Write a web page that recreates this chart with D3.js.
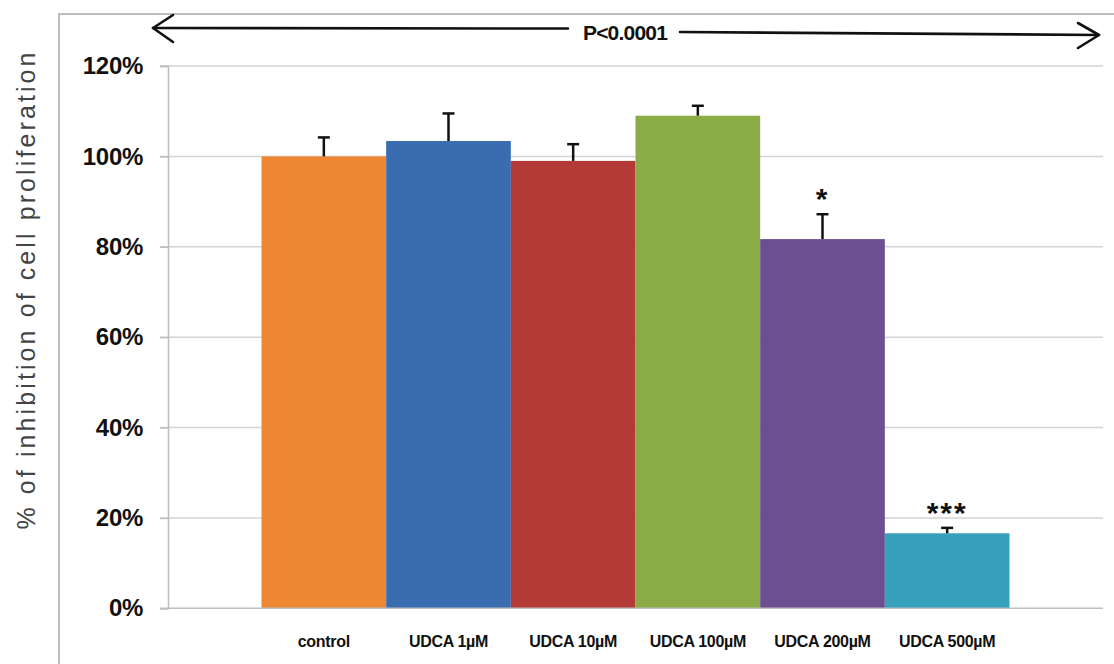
<!DOCTYPE html>
<html>
<head>
<meta charset="utf-8">
<script src="https://cdn.jsdelivr.net/npm/d3@7/dist/d3.min.js"></script>
<style>
  html, body { margin: 0; padding: 0; background: #fff; }
  svg { display: block; }
</style>
</head>
<body>
<svg id="chart" width="1114" height="664"></svg>
<script>
// Treatment groups and measured proliferation (% of control)
const categories = ["control", "UDCA 1µM", "UDCA 10µM", "UDCA 100µM", "UDCA 200µM", "UDCA 500µM"];
const values     = [100, 103.4, 99.0, 109.0, 81.7, 16.6];
const errors     = [4.2, 6.1, 3.7, 2.2, 5.5, 1.2];
const stars      = ["", "", "", "", "*", "***"];
const colors     = ["#ee8733", "#3a6daf", "#b33a37", "#8bab46", "#6c4f91", "#37a0bd"];
const yTicks     = [0, 20, 40, 60, 80, 100, 120];
const yTitle     = "% of inhibition of cell proliferation";
const pLabel     = "P<0.0001";

const svg = d3.select("#chart");

// Outer frame (top and left border)
svg.append("path")
  .attr("d", "M59,664 L59,14 L1114,14")
  .attr("fill", "none")
  .attr("stroke", "#bdbdbd")
  .attr("stroke-width", 2);

const plot = { left: 168, right: 1103, top: 66, bottom: 608.3 };

const y = d3.scaleLinear().domain([0, 120]).range([plot.bottom, plot.top]);

// One category holding six series; gap between clusters = 150% of a bar
const x0 = d3.scaleBand().domain(["all"]).range([plot.left, plot.right])
  .paddingInner(0).paddingOuter(0.125);
const x1 = d3.scaleBand().domain(categories).range([0, x0.bandwidth()]).padding(0);
const bx = d => x0("all") + x1(d);

// Gridlines
svg.append("g")
  .selectAll("line")
  .data(yTicks.filter(t => t > 0))
  .join("line")
  .attr("x1", plot.left - 8).attr("x2", plot.right)
  .attr("y1", d => y(d)).attr("y2", d => y(d))
  .attr("stroke", "#d3d3d3").attr("stroke-width", 1.5);

// Y axis
const yAxis = d3.axisLeft(y).tickValues(yTicks).tickSize(8).tickPadding(17)
  .tickFormat(d => d + "%");
const gy = svg.append("g").attr("transform", `translate(${plot.left},0)`).call(yAxis);
gy.select(".domain").attr("stroke", "#bdbdbd").attr("stroke-width", 1.5);
gy.selectAll(".tick line").attr("stroke", "#bdbdbd").attr("stroke-width", 1.5);
gy.selectAll(".tick text")
  .attr("fill", "#111")
  .style("font-family", "'Liberation Sans', Arial, sans-serif")
  .style("font-weight", "bold")
  .style("font-size", "24px")
  .style("letter-spacing", "-0.3px");

// Bars
svg.append("g")
  .selectAll("rect")
  .data(categories)
  .join("rect")
  .attr("x", d => bx(d))
  .attr("width", x1.bandwidth())
  .attr("y", (d, i) => y(values[i]))
  .attr("height", (d, i) => y(0) - y(values[i]))
  .attr("fill", (d, i) => colors[i]);

// X baseline
svg.append("line")
  .attr("x1", plot.left - 8).attr("x2", plot.right)
  .attr("y1", y(0)).attr("y2", y(0))
  .attr("stroke", "#bdbdbd").attr("stroke-width", 1.5);

// Upper error bars
const eb = svg.append("g").attr("stroke", "#111").attr("stroke-width", 2.5);
categories.forEach((c, i) => {
  const cx = bx(c) + x1.bandwidth() / 2;
  eb.append("line").attr("x1", cx).attr("x2", cx)
    .attr("y1", y(values[i])).attr("y2", y(values[i] + errors[i]));
  eb.append("line").attr("x1", cx - 6).attr("x2", cx + 6)
    .attr("y1", y(values[i] + errors[i])).attr("y2", y(values[i] + errors[i]));
});

// Significance stars
svg.append("g")
  .selectAll("text")
  .data(categories)
  .join("text")
  .attr("x", d => bx(d) + x1.bandwidth() / 2)
  .attr("y", (d, i) => y(values[i] + errors[i]) - 5)
  .attr("text-anchor", "middle")
  .style("font-family", "'Liberation Sans', Arial, sans-serif")
  .style("font-weight", "bold")
  .style("font-size", "30px")
  .style("letter-spacing", "2px")
  .attr("fill", "#111")
  .text((d, i) => stars[i]);

// Category labels
svg.append("g")
  .selectAll("text")
  .data(categories)
  .join("text")
  .attr("x", d => bx(d) + x1.bandwidth() / 2)
  .attr("y", 647)
  .attr("text-anchor", "middle")
  .style("font-family", "'Liberation Sans', Arial, sans-serif")
  .style("font-weight", "bold")
  .style("font-size", "16px")
  .style("letter-spacing", "-0.3px")
  .attr("fill", "#111")
  .text(d => d);

// Y axis title
svg.append("text")
  .attr("transform", "translate(35,291) rotate(-90)")
  .attr("text-anchor", "middle")
  .attr("textLength", 477)
  .attr("lengthAdjust", "spacing")
  .style("font-family", "'Liberation Sans', Arial, sans-serif")
  .style("font-size", "25px")
  .attr("fill", "#444")
  .text(yTitle);

// Double-headed arrow spanning all groups with p-value
const arrow = svg.append("g").attr("fill", "none").attr("stroke", "#111")
  .attr("stroke-width", 2.6).attr("stroke-linecap", "round").attr("stroke-linejoin", "round");
arrow.append("path").attr("d", "M153,28 L568,28.5");
arrow.append("path").attr("d", "M680,32 L1099,35");
arrow.append("path").attr("d", "M173,15 L153,28 L173,42");
arrow.append("path").attr("d", "M1078,23 L1099,35 L1078,48");

svg.append("text")
  .attr("x", 625).attr("y", 40)
  .attr("text-anchor", "middle")
  .style("font-family", "'Liberation Sans', Arial, sans-serif")
  .style("font-weight", "bold")
  .style("font-size", "21px")
  .style("letter-spacing", "-0.8px")
  .attr("fill", "#111")
  .text(pLabel);
</script>
</body>
</html>
